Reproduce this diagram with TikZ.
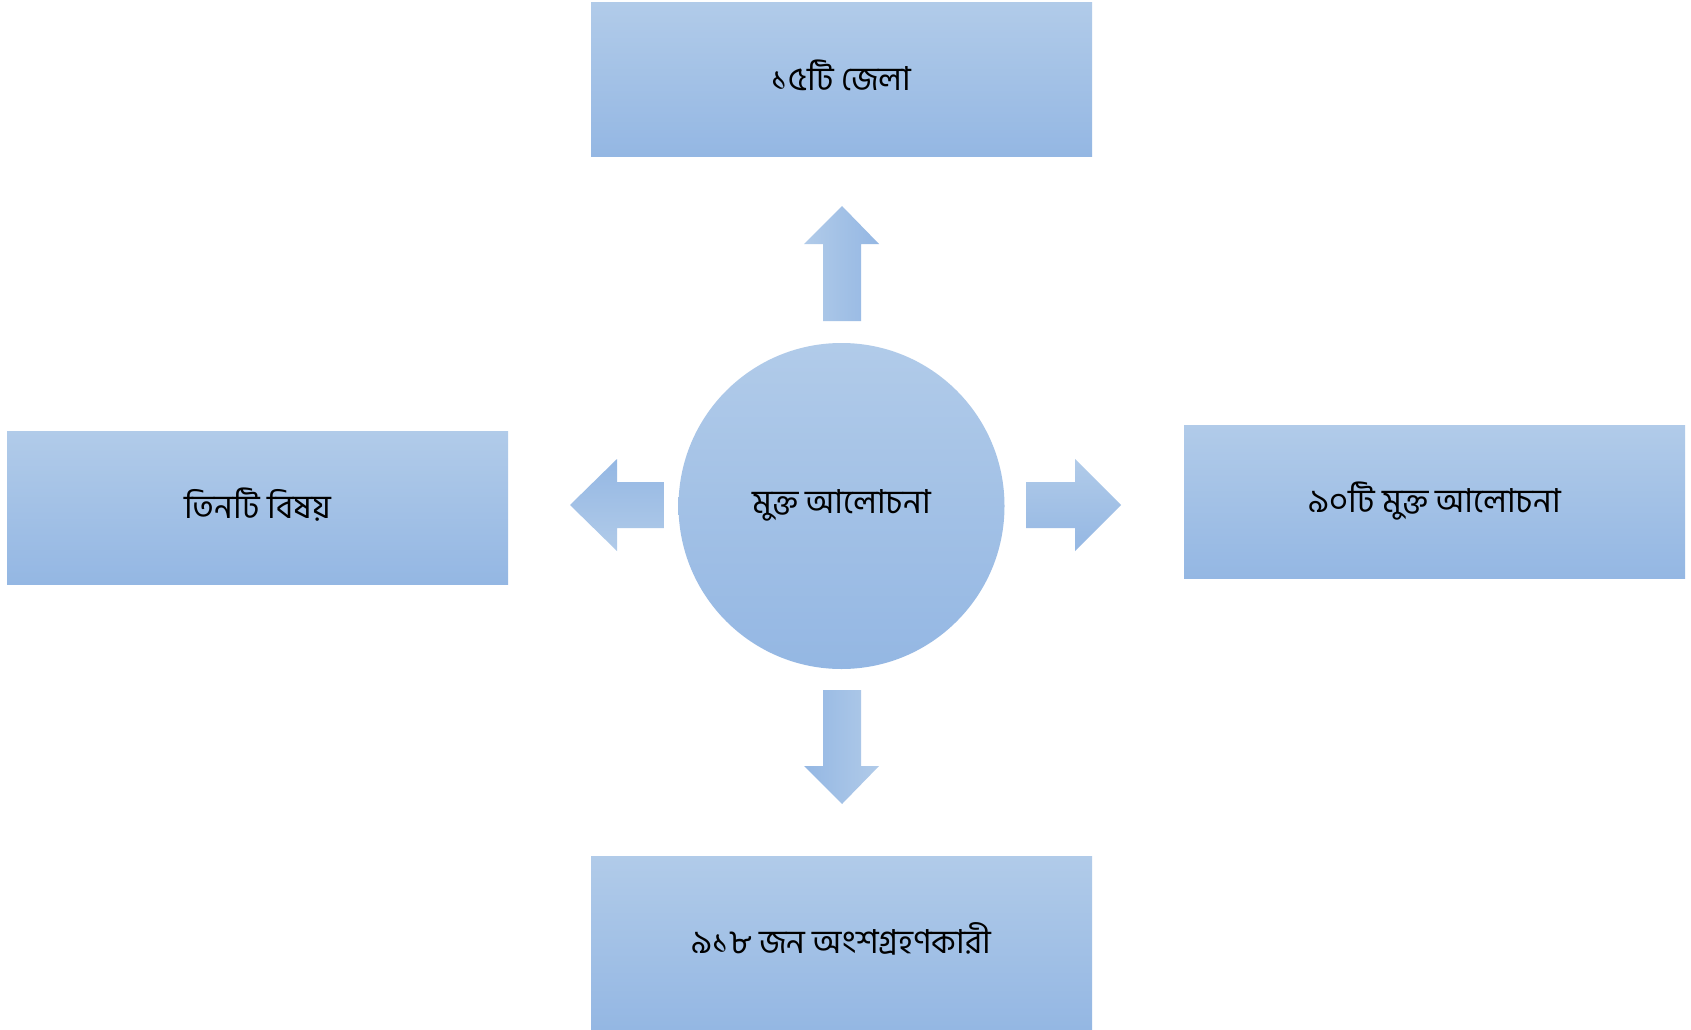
\documentclass[tikz,border=0pt]{standalone}
\usepackage{fontspec}
\newfontfamily\bn[Script=Bengali]{Hind Siliguri}
\definecolor{gtop}{RGB}{177,203,233}
\definecolor{gbot}{RGB}{148,183,227}
\newcommand{\bt}[1]{\raisebox{8pt}{#1}}
\tikzset{
  infobox/.style={rectangle, draw=none, top color=gtop, bottom color=gbot, minimum width=501pt, minimum height=153pt, inner sep=0pt, font=\bn\fontsize{33}{40}\selectfont},
  hubnode/.style={circle, draw=none, top color=gtop, bottom color=gbot, minimum size=326pt, inner sep=0pt, font=\bn\fontsize{33}{40}\selectfont},
  blockarrow/.style={draw=none, top color=gtop, bottom color=gbot}
}
\begin{document}
\begin{tikzpicture}[x=1pt,y=-1pt]
\useasboundingbox (0,0) rectangle (1691,1030);
\fill[white] (0,0) rectangle (1691,1030);
\node[infobox] (top) at (841.5,79.5) {\bt{১৫টি জেলা}};
\node[infobox] (left) at (257.5,507.5) {\bt{তিনটি বিষয়}};
\node[infobox] (right) at (1434.5,501.5) {\bt{৯০টি মুক্ত আলোচনা}};
\node[infobox, minimum height=173pt] (bottom) at (841.5,942.5) {\bt{৯১৮ জন অংশগ্রহণকারী}};
\node[hubnode] (hub) at (841.5,506) {\bt{মুক্ত আলোচনা}};
% up arrow
\path[blockarrow, shading angle=90] (823,321) -- (823,244) -- (804,244) -- (842,206) -- (879,244) -- (861,244) -- (861,321) -- cycle;
% down arrow
\path[blockarrow, shading angle=-90] (823,690) -- (823,766) -- (804,766) -- (842,804) -- (879,766) -- (861,766) -- (861,690) -- cycle;
% right arrow
\path[blockarrow] (1026,482) -- (1075,482) -- (1075,459) -- (1121,505) -- (1075,551) -- (1075,528) -- (1026,528) -- cycle;
% left arrow
\path[blockarrow, shading angle=180] (664,482) -- (617,482) -- (617,459) -- (570,505) -- (617,551) -- (617,528) -- (664,528) -- cycle;
\end{tikzpicture}
\end{document}
